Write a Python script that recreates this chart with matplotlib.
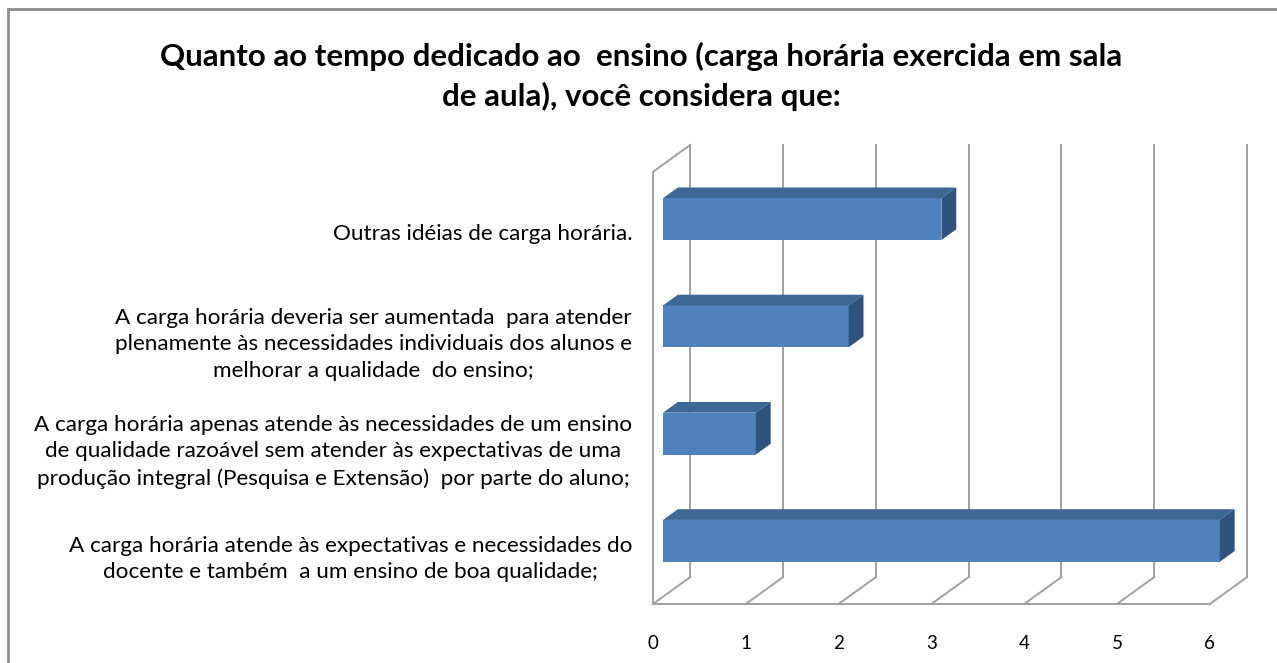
import matplotlib
matplotlib.use("Agg")
import matplotlib.pyplot as plt
from matplotlib.patches import Polygon
from matplotlib.lines import Line2D

plt.rcParams['font.family'] = ['Lato', 'DejaVu Sans']

# data (bottom to top, as drawn)
categories = [
    "A carga horária atende às expectativas e necessidades do\ndocente e também  a um ensino de boa qualidade;",
    "A carga horária apenas atende às necessidades de um ensino\nde qualidade razoável sem atender às expectativas de uma\nprodução integral (Pesquisa e Extensão)  por parte do aluno;",
    "A carga horária deveria ser aumentada  para atender\nplenamente às necessidades individuais dos alunos e\nmelhorar a qualidade  do ensino;",
    "Outras idéias de carga horária.",
]
values = [6, 1, 2, 3]
x_ticks = [0, 1, 2, 3, 4, 5, 6]
title = "Quanto ao tempo dedicado ao  ensino (carga horária exercida em sala\nde aula), você considera que:"

# 3D look (in data units)
WALL_DX, WALL_DY = 0.4, 0.25      # depth of the back wall
BAR_X0, BAR_Y0 = 0.108, 0.069     # bar front face offset inside the depth
BAR_DX, BAR_DY = 0.16, 0.10       # bar depth
BAR_H = 0.39
GRID = '#a0a0a0'
FRONT, TOP, SIDE = '#4f81bd', '#3d6795', '#2f527e'

W, H = 1277, 663
fig = plt.figure(figsize=(W / 100, H / 100), dpi=100)
fig.patch.set_facecolor('white')

ylo, yhi = -0.52, 3.76
ax = fig.add_axes([653 / W, (H - 604) / H, 6.4 * 92.8 / W, (604 - 145) / H])
ax.set_xlim(0, 6.4)
ax.set_ylim(ylo, yhi)
for s in ax.spines.values():
    s.set_visible(False)

# walls and gridlines
for k in x_ticks:
    ax.plot([k + WALL_DX, k + WALL_DX], [ylo + WALL_DY, yhi], color=GRID, lw=1.4, clip_on=False, zorder=1)
    ax.plot([k, k + WALL_DX], [ylo, ylo + WALL_DY], color=GRID, lw=1.4, clip_on=False, zorder=1)
ax.plot([x_ticks[0], x_ticks[-1]], [ylo, ylo], color=GRID, lw=1.4, clip_on=False, zorder=1)
ax.plot([0, 0, WALL_DX], [ylo, yhi - WALL_DY, yhi], color=GRID, lw=1.4, clip_on=False, zorder=1)

# bars
ypos = list(range(len(categories)))
for y, v in zip(ypos, values):
    yc = y + BAR_Y0
    yb, yt = yc - BAR_H / 2, yc + BAR_H / 2
    x0, x1 = BAR_X0, BAR_X0 + v
    ax.barh(yc, v, left=x0, height=BAR_H, color=FRONT, zorder=3)
    ax.add_patch(Polygon([(x0, yt), (x1, yt), (x1 + BAR_DX, yt + BAR_DY), (x0 + BAR_DX, yt + BAR_DY)],
                         closed=True, facecolor=TOP, edgecolor='none', zorder=3))
    ax.add_patch(Polygon([(x1, yb), (x1, yt), (x1 + BAR_DX, yt + BAR_DY), (x1 + BAR_DX, yb + BAR_DY)],
                         closed=True, facecolor=SIDE, edgecolor='none', zorder=3))

ax.set_xticks(x_ticks)
ax.set_xticklabels([str(t) for t in x_ticks], fontsize=13.5)
ax.set_yticks([y - 0.05 for y in ypos])
ax.set_yticklabels(categories, fontsize=16.2, multialignment='center', linespacing=1.42)
ax.tick_params(axis='x', length=0, pad=22)
ax.tick_params(axis='y', length=0, pad=15)

fig.text(0.502, 1 - 76 / H, title, ha='center', va='center', fontsize=22.5,
         fontweight='bold', linespacing=1.45)

# chart border (top and left visible)
fig.add_artist(Line2D([8 / W, 1.01], [1 - 9 / H, 1 - 9 / H], color='#8c8c8c', lw=2, transform=fig.transFigure))
fig.add_artist(Line2D([8 / W, 8 / W], [1 - 9 / H, -0.01], color='#8c8c8c', lw=2, transform=fig.transFigure))

fig.savefig('out.png', dpi=100, facecolor='white')
